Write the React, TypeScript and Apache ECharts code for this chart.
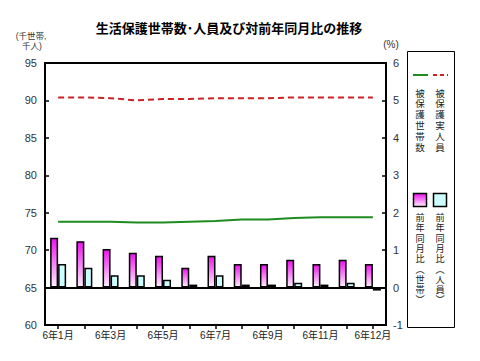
import React, { useEffect, useRef } from "react";
import * as echarts from "echarts";

const categories = ["6年1月", "", "6年3月", "", "6年5月", "", "6年7月", "", "6年9月", "", "6年11月", "", "6年12月"];
const households = [73.8, 73.8, 73.8, 73.7, 73.7, 73.8, 73.9, 74.1, 74.1, 74.3, 74.4, 74.4, 74.4];
const persons = [90.4, 90.4, 90.3, 90.0, 90.2, 90.2, 90.3, 90.3, 90.3, 90.4, 90.4, 90.4, 90.4];
const yoyHouseholds = [1.33, 1.24, 1.03, 0.93, 0.85, 0.53, 0.85, 0.63, 0.63, 0.74, 0.63, 0.74, 0.63];
const yoyPersons = [0.63, 0.53, 0.33, 0.33, 0.21, 0.08, 0.33, 0.08, 0.08, 0.13, 0.08, 0.13, -0.08];
const leftTicks = { min: 60, max: 95, interval: 5 };
const rightTicks = { min: -1, max: 6, interval: 1 };

const FONT = "'Liberation Sans', 'Noto Sans CJK JP', sans-serif";
const JP = "'Noto Sans CJK JP', sans-serif";

// vertical legend text: one text element per character
const vertical = (s: string, x: number, y0: number, step: number, size: number) =>
  s.split("").map((ch, i) => ({
    type: "text",
    x,
    y: y0 + i * step,
    style: { text: ch, font: `${size}px ${FONT}`, fill: "#222", align: "center", verticalAlign: "middle" },
  }));

export default function App() {
  const ref = useRef<HTMLDivElement>(null);
  useEffect(() => {
    if (!ref.current) return;
    const chart = echarts.init(ref.current, undefined, { renderer: "svg" });
    const magenta = new echarts.graphic.LinearGradient(0, 0, 0, 1, [
      { offset: 0, color: "#ee11ee" },
      { offset: 1, color: "#fff0ff" },
    ]);
    chart.setOption({
      animation: false,
      textStyle: { fontFamily: FONT },
      grid: {
        left: 45, right: 94, top: 63, bottom: 36,
        show: true, borderColor: "#000", borderWidth: 2, backgroundColor: "transparent",
      },
      xAxis: {
        type: "category",
        data: categories,
        boundaryGap: true,
        axisLine: { onZero: false, lineStyle: { color: "#000", width: 2 } },
        axisTick: { show: true, alignWithLabel: true, interval: 0, length: 4, lineStyle: { color: "#000", width: 1.5 } },
        axisLabel: { interval: 0, fontSize: 10, color: "#222", margin: 5, fontFamily: FONT },
      },
      yAxis: [
        {
          type: "value", ...leftTicks,
          axisLine: { show: true, lineStyle: { color: "#000", width: 2 } },
          axisTick: { show: true, inside: true, length: 4, lineStyle: { color: "#000", width: 1.5 } },
          axisLabel: { fontSize: 11, color: "#333", margin: 8 },
          splitLine: { show: false },
        },
        {
          type: "value", ...rightTicks, position: "right",
          axisLine: { show: true, lineStyle: { color: "#000", width: 2 } },
          axisTick: { show: true, inside: true, length: 4, lineStyle: { color: "#000", width: 1.5 } },
          axisLabel: { fontSize: 11, color: "#333", margin: 7 },
          splitLine: { show: false },
        },
      ],
      series: [
        {
          name: "前年同月比（世帯）", type: "bar", yAxisIndex: 1, data: yoyHouseholds,
          barWidth: 8, barGap: "0%",
          itemStyle: { color: magenta, borderColor: "#000", borderWidth: 1.5 },
          markLine: {
            silent: true, symbol: "none", label: { show: false },
            lineStyle: { color: "#000", width: 2, type: "solid" },
            data: [{ yAxis: 0 }],
          },
        },
        {
          name: "前年同月比（人員）", type: "bar", yAxisIndex: 1, data: yoyPersons,
          barWidth: 8,
          itemStyle: { color: "#ccffff", borderColor: "#000", borderWidth: 1.5 },
        },
        {
          name: "被保護世帯数", type: "line", yAxisIndex: 0, data: households,
          showSymbol: false, symbol: "none",
          lineStyle: { color: "#1f8c1f", width: 2 },
        },
        {
          name: "被保護実人員", type: "line", yAxisIndex: 0, data: persons,
          showSymbol: false, symbol: "none",
          lineStyle: { color: "#cc2222", width: 2, type: [6, 4] },
        },
      ],
      graphic: [
        {
          type: "text", x: 229, y: 27,
          style: { text: "生活保護世帯数･人員及び対前年同月比の推移", font: `bold 13px ${JP}`, fill: "#000", align: "center", verticalAlign: "middle" },
        },
        {
          type: "text", x: 31, y: 36,
          style: { text: "(千世帯,", font: `8.5px ${FONT}`, fill: "#333", align: "center", verticalAlign: "middle" },
        },
        {
          type: "text", x: 32, y: 46,
          style: { text: "千人)", font: `8.5px ${FONT}`, fill: "#333", align: "center", verticalAlign: "middle" },
        },
        {
          type: "text", x: 391, y: 44,
          style: { text: "(%)", font: `10px ${FONT}`, fill: "#333", align: "center", verticalAlign: "middle" },
        },
        {
          type: "rect", shape: { x: 407.5, y: 51.5, width: 47, height: 276 },
          style: { fill: "#fff", stroke: "#000", lineWidth: 1 },
        },
        { type: "line", shape: { x1: 413, y1: 75, x2: 428, y2: 75 }, style: { stroke: "#1f8c1f", lineWidth: 2 } },
        { type: "line", shape: { x1: 433, y1: 75, x2: 448, y2: 75 }, style: { stroke: "#cc2222", lineWidth: 2, lineDash: [4, 3] } },
        ...vertical("被保護世帯数", 420, 93, 10.8, 9.5),
        ...vertical("被保護実人員", 440, 93, 10.8, 9.5),
        {
          type: "rect", shape: { x: 413.5, y: 193.5, width: 13, height: 13 },
          style: { fill: magenta, stroke: "#000", lineWidth: 1.5 },
        },
        {
          type: "rect", shape: { x: 433.5, y: 193.5, width: 13, height: 13 },
          style: { fill: "#ccffff", stroke: "#000", lineWidth: 1.5 },
        },
        ...vertical("前年同月比︵世帯︶", 420, 218, 10.3, 9.2),
        ...vertical("前年同月比︵人員︶", 440, 218, 10.3, 9.2),
      ],
    });
    return () => chart.dispose();
  }, []);
  return <div ref={ref} style={{ width: 480, height: 361, position: "absolute", left: 0, top: 0 }} />;
}
